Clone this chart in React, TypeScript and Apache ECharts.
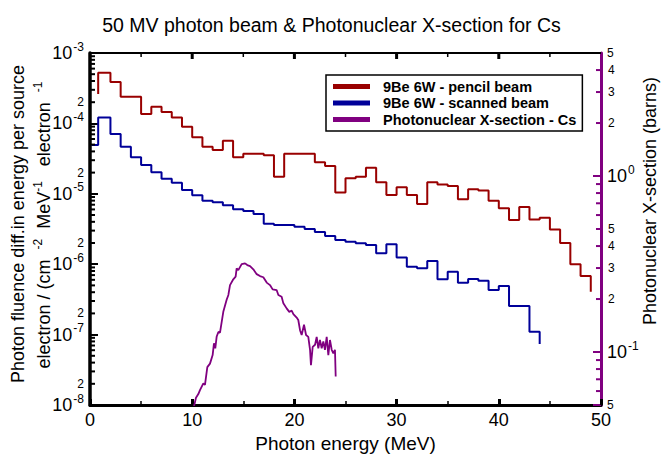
import React, { useEffect, useRef } from "react";
import * as echarts from "echarts";

const FONT = "Liberation Sans, Arial, sans-serif";
const RED = "#990000";
const BLUE = "#000099";
const PURPLE = "#800080";

// 9Be 6W - pencil beam : bin edges (MeV) and fluence per bin
const pencilEdges = [0.8, 2, 3, 4, 5, 6, 7, 8, 9, 10, 11, 12, 13, 14, 15, 16, 17, 18, 19, 20, 21, 22, 23, 24, 25, 26, 27, 28, 29, 30, 31, 32, 33, 34, 35, 36, 37, 38, 39, 40, 41, 42, 43, 44, 45, 46, 47, 48, 49];
const pencilValues = [
  5.25e-4, 3.87e-4, 2.39e-4, 2.39e-4, 1.36e-4, 1.73e-4, 1.45e-4, 1.21e-4, 8.98e-5, 6.35e-5,
  4.67e-5, 4.19e-5, 5.68e-5, 3.3e-5, 3.71e-5, 3.71e-5, 3.52e-5, 1.75e-5, 3.71e-5, 3.71e-5,
  3.71e-5, 2.8e-5, 2.48e-5, 1.04e-5, 1.66e-5, 1.75e-5, 2.35e-5, 1.46e-5, 9.6e-6, 1.24e-5,
  9.6e-6, 7.16e-6, 1.46e-5, 1.35e-5, 1.29e-5, 8.36e-6, 1.16e-5, 1.11e-5, 7.98e-6, 6.22e-6,
  4.25e-6, 6.49e-6, 4.32e-6, 4.56e-6, 3.11e-6, 2.0e-6, 9.97e-7, 6.8e-7,
];
const pencilStart = 2.62e-4;
const pencilEnd = 4.06e-7;

// 9Be 6W - scanned beam
const scannedEdges = [0.15, 0.8, 2, 3, 4, 5, 6, 7, 8, 9, 10, 11, 12, 13, 14, 15, 16, 17, 18, 19, 20, 21, 22, 23, 24, 25, 26, 27, 28, 29, 30, 31, 32, 33, 34, 35, 36, 37, 38, 39, 40, 41, 42, 43, 44];
const scannedValues = [
  4.93e-5, 1.21e-4, 7.06e-5, 4.67e-5, 3.3e-5, 2.56e-5, 2.02e-5, 1.64e-5, 1.44e-5, 1.13e-5,
  9.5e-6, 7.98e-6, 7.57e-6, 6.87e-6, 6.03e-6, 5.7e-6, 5.17e-6, 3.76e-6, 3.6e-6, 3.6e-6,
  3.41e-6, 3.16e-6, 2.86e-6, 2.52e-6, 2.21e-6, 2.09e-6, 1.98e-6, 1.87e-6, 1.43e-6, 1.92e-6,
  1.25e-6, 9.2e-7, 8.74e-7, 1.11e-6, 6.1e-7, 7.8e-7, 5.46e-7, 6.16e-7, 5.83e-7, 4.31e-7,
  4.9e-7, 2.55e-7, 2.55e-7, 1.1e-7,
];
const scannedEnd = 7.35e-8;

// Photonuclear X-section for Cs (barns)
const pnEnergy = [
  10.1, 10.37, 10.6, 10.76, 11.09, 11.25, 11.48, 11.74, 12.0, 12.13,
  12.26, 12.39, 12.56, 12.72, 13.05, 13.37, 13.54, 13.7, 14.02, 14.25,
  14.35, 14.51, 14.84, 15.17, 15.39, 15.66, 15.98, 16.31, 16.63, 16.96,
  17.29, 17.61, 17.87, 18.26, 18.43, 18.75, 18.92, 19.24, 19.5, 19.73,
  19.9, 20.22, 20.38, 20.55, 20.71, 20.94, 21.14, 21.36, 21.53, 21.62,
  21.79, 22.02, 22.18, 22.34, 22.5, 22.67, 22.83, 22.99, 23.16, 23.32,
  23.48, 23.65, 23.81, 23.97, 24.04,
];
const pnSigma = [
  0.047, 0.055, 0.0577, 0.0608, 0.0664, 0.065, 0.0821, 0.0859, 0.0961, 0.112,
  0.105, 0.122, 0.13, 0.129, 0.17, 0.198, 0.211, 0.24, 0.259, 0.268,
  0.299, 0.292, 0.316, 0.319, 0.312, 0.308, 0.295, 0.277, 0.27, 0.266,
  0.248, 0.24, 0.227, 0.225, 0.211, 0.206, 0.189, 0.177, 0.169, 0.172,
  0.164, 0.157, 0.152, 0.133, 0.125, 0.143, 0.125, 0.122, 0.103, 0.0843,
  0.107, 0.11, 0.122, 0.105, 0.117, 0.105, 0.115, 0.103, 0.122, 0.0961,
  0.117, 0.103, 0.0984, 0.103, 0.0725,
];

// axis furniture
const mantissas = [2, 3, 4, 5, 6, 7, 8, 9];
const leftDecades = [1e-8, 1e-7, 1e-6, 1e-5, 1e-4];
const leftTwoLabels = [2e-8, 2e-7, 2e-6, 2e-5, 2e-4];
const leftTwoTexts = ["2", "2", "2", "2", "2"];
const rightMinorTicks = [0.06, 0.07, 0.08, 0.09, 0.2, 0.3, 0.4, 0.5, 0.6, 0.7, 0.8, 0.9, 2, 3, 4];
const rightDigitLabels = [0.2, 0.3, 0.4, 0.5, 2, 3, 4];
const rightDigitTexts = ["2", "3", "4", "5", "2", "3", "4"];
const topMajorTicks = [10, 20, 30, 40];
const topMinorTicks = [5, 15, 25, 35, 45];

function stepPoints(edges: number[], values: number[], start?: number, end?: number) {
  const pts: number[][] = [];
  if (start != null) pts.push([edges[0], start]);
  for (let i = 0; i < values.length; i++) {
    pts.push([edges[i], values[i]]);
    pts.push([edges[i + 1], values[i]]);
  }
  if (end != null) pts.push([edges[edges.length - 1], end]);
  return pts;
}

const leftMinorTicks: number[] = [];
leftDecades.forEach((d) => mantissas.forEach((m) => leftMinorTicks.push(m * d)));

function tickSeries(values: number[], xVal: number, yAxisIndex: number, dir: number, len: number, color: string, width: number) {
  return {
    type: "custom",
    xAxisIndex: 0,
    yAxisIndex,
    silent: true,
    clip: false,
    z: 5,
    data: values.map((v) => [xVal, v]),
    renderItem: (params: any, api: any) => {
      const p = api.coord([api.value(0), api.value(1)]);
      return {
        type: "line",
        shape: { x1: p[0], y1: p[1], x2: p[0] + dir * len, y2: p[1] },
        style: { stroke: color, lineWidth: width },
      };
    },
  };
}

// top frame ticks, pointing down from the top edge (y = 1e-3)
function topTickSeries() {
  const items: number[][] = [];
  topMajorTicks.forEach((t) => items.push([t, 1e-3, 6, 3]));
  topMinorTicks.forEach((t) => items.push([t, 1e-3, 4, 1.5]));
  return {
    type: "custom",
    xAxisIndex: 0,
    yAxisIndex: 0,
    silent: true,
    clip: false,
    z: 100,
    data: items,
    renderItem: (params: any, api: any) => {
      const a = api.coord([api.value(0), api.value(1)]);
      const len = api.value(2);
      return {
        type: "line",
        z2: 100,
        shape: { x1: a[0], y1: a[1], x2: a[0], y2: a[1] + len },
        style: { stroke: "#000", lineWidth: api.value(3) },
      };
    },
  };
}

function labelSeries(values: number[], texts: string[], xVal: number, yAxisIndex: number, dx: number, align: string) {
  return {
    type: "custom",
    xAxisIndex: 0,
    yAxisIndex,
    silent: true,
    clip: false,
    z: 5,
    data: values.map((v) => [xVal, v]),
    renderItem: (params: any, api: any) => {
      const p = api.coord([api.value(0), api.value(1)]);
      return {
        type: "text",
        x: p[0] + dx,
        y: p[1],
        style: {
          text: texts[params.dataIndex],
          fontSize: 12,
          fontFamily: FONT,
          fill: "#000",
          align,
          verticalAlign: "middle",
        },
      };
    },
  };
}

const supRich = {
  b: { fontSize: 18, fontFamily: FONT, color: "#000" },
  s: { fontSize: 12, fontFamily: FONT, color: "#000", padding: [0, 0, 13, 1] },
  d: { fontSize: 12, fontFamily: FONT, color: "#000" },
};

function decadeLabel(v: number) {
  const l = Math.log10(v);
  const r = Math.round(l);
  if (Math.abs(l - r) < 1e-6) return `{b|10}{s|${r}}`;
  return `{d|${Math.round(v / Math.pow(10, Math.floor(l + 1e-9)))}}`;
}

const option = {
  animation: false,
  backgroundColor: "#fff",
  title: {
    text: "50 MV photon beam & Photonuclear X-section for Cs",
    left: "center",
    top: 10,
    textStyle: { fontSize: 19.5, fontWeight: "normal", fontFamily: FONT, color: "#000" },
  },
  grid: { left: 90, right: 62, top: 53, bottom: 54 },
  legend: {
    data: ["9Be 6W - pencil beam", "9Be 6W - scanned beam", "Photonuclear X-section - Cs"],
    orient: "vertical",
    left: 326,
    top: 75,
    icon: "rect",
    itemWidth: 37,
    itemHeight: 5,
    itemGap: 1.5,
    padding: [4, 6, 4, 7],
    borderColor: "#000",
    borderWidth: 1.5,
    backgroundColor: "#fff",
    textStyle: { fontSize: 14.5, fontWeight: "bold", fontFamily: FONT, color: "#000", padding: [0, 0, 0, 8] },
  },
  xAxis: [
    {
      type: "value",
      position: "bottom",
      min: 0,
      max: 50,
      interval: 10,
      axisLine: { show: true, onZero: false, lineStyle: { color: "#000", width: 3 } },
      axisTick: { show: true, inside: true, length: 6, lineStyle: { color: "#000", width: 3 } },
      minorTick: { show: true, splitNumber: 2, length: 4, lineStyle: { color: "#000", width: 1.5 } },
      axisLabel: { margin: 6, fontSize: 18, fontFamily: FONT, color: "#000" },
      splitLine: { show: false },
      name: "Photon energy (MeV)",
      nameLocation: "middle",
      nameGap: 27,
      nameTextStyle: { fontSize: 19, fontFamily: FONT, color: "#000" },
    },
  ],
  yAxis: [
    {
      type: "log",
      logBase: 10,
      min: 1e-8,
      max: 1e-3,
      position: "left",
      axisLine: { show: true, onZero: false, lineStyle: { color: "#000", width: 3.5 } },
      axisTick: { show: true, inside: true, length: 8, lineStyle: { color: "#000", width: 2 } },
      axisLabel: { margin: 6, formatter: decadeLabel, rich: supRich },
      splitLine: { show: false },
    },
    {
      type: "log",
      logBase: 10,
      min: 0.05,
      max: 5,
      position: "right",
      axisLine: { show: true, onZero: false, lineStyle: { color: PURPLE, width: 3 } },
      axisTick: { show: true, inside: true, length: 8, lineStyle: { color: PURPLE, width: 2 } },
      axisLabel: { margin: 6, formatter: decadeLabel, rich: supRich },
      splitLine: { show: false },
    },
  ],
  graphic: [
    {
      type: "rect",
      z: 100,
      silent: true,
      shape: { x: 90, y: 52, width: 511, height: 2 },
      style: { fill: "#000" },
    },
    {
      type: "text",
      x: 18,
      y: 224,
      rotation: Math.PI / 2,
      style: {
        text: "Photon fluence diff.in energy per source",
        fontSize: 18,
        fontFamily: FONT,
        fill: "#000",
        align: "center",
        verticalAlign: "middle",
      },
    },
    {
      type: "text",
      x: 44,
      y: 225,
      rotation: Math.PI / 2,
      style: {
        text: "electron / (cm  {s|-2}  MeV{s|-1}   electron  {s|-1}",
        fontSize: 18,
        fontFamily: FONT,
        fill: "#000",
        align: "center",
        verticalAlign: "middle",
        rich: {
          s: { fontSize: 12, fontFamily: FONT, fill: "#000", padding: [0, 0, 13, 0] },
        },
      },
    },
    {
      type: "text",
      x: 650,
      y: 201,
      rotation: Math.PI / 2,
      style: {
        text: "Photonuclear X-section (barns)",
        fontSize: 18,
        fontFamily: FONT,
        fill: "#000",
        align: "center",
        verticalAlign: "middle",
      },
    },
  ],
  series: [
    {
      name: "9Be 6W - pencil beam",
      type: "line",
      xAxisIndex: 0,
      yAxisIndex: 0,
      showSymbol: false,
      symbol: "none",
      color: RED,
      lineStyle: { color: RED, width: 2 },
      data: stepPoints(pencilEdges, pencilValues, pencilStart, pencilEnd),
    },
    {
      name: "9Be 6W - scanned beam",
      type: "line",
      xAxisIndex: 0,
      yAxisIndex: 0,
      showSymbol: false,
      symbol: "none",
      color: BLUE,
      lineStyle: { color: BLUE, width: 2 },
      data: stepPoints(scannedEdges, scannedValues, undefined, scannedEnd),
    },
    {
      name: "Photonuclear X-section - Cs",
      type: "line",
      xAxisIndex: 0,
      yAxisIndex: 1,
      showSymbol: false,
      symbol: "none",
      color: PURPLE,
      lineStyle: { color: PURPLE, width: 1.8 },
      data: pnEnergy.map((e, i) => [e, pnSigma[i]]),
    },
    tickSeries(leftMinorTicks, 0, 0, 1, 5, "#000", 2),
    tickSeries(rightMinorTicks, 50, 1, -1, 5, PURPLE, 2),
    labelSeries(leftTwoLabels, leftTwoTexts, 0, 0, -6, "right"),
    labelSeries(rightDigitLabels, rightDigitTexts, 50, 1, 7, "left"),
    topTickSeries(),
  ],
};

export default function App() {
  const ref = useRef<HTMLDivElement>(null);
  useEffect(() => {
    const chart = echarts.init(ref.current!, null, { renderer: "svg" });
    chart.setOption(option as any);
    return () => chart.dispose();
  }, []);
  return (
    <div
      ref={ref}
      style={{ position: "fixed", left: 0, top: 0, width: 663, height: 459, background: "#fff" }}
    />
  );
}
